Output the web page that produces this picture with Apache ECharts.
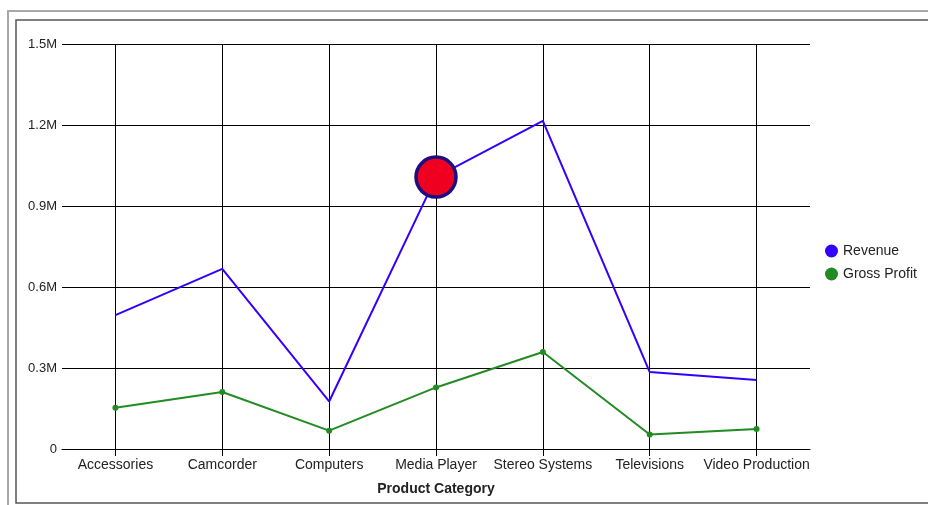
<!DOCTYPE html>
<html>
<head>
<meta charset="utf-8">
<script src="https://cdn.jsdelivr.net/npm/echarts@6/dist/echarts.min.js"></script>
<style>html,body{margin:0;padding:0;background:#fff;}#c{width:928px;height:505px;}</style>
</head>
<body>
<div id="c"></div>
<script>
const categories = ['Accessories', 'Camcorder', 'Computers', 'Media Player', 'Stereo Systems', 'Televisions', 'Video Production'];
const revenue = [496000, 667000, 176000, 1007000, 1215000, 285000, 256000];
const grossProfit = [153000, 211000, 68000, 228000, 359000, 54000, 74000];
const highlightIndex = 3;

const chart = echarts.init(document.getElementById('c'));
const font = 'Liberation Sans, Arial, sans-serif';
const revenueData = revenue.map((v, i) => i === highlightIndex ? {
  value: v, symbol: 'circle', symbolSize: 40,
  itemStyle: { color: '#f00020', borderColor: '#1d0d80', borderWidth: 3.5 }
} : { value: v, symbol: 'none' });

chart.setOption({
  animation: false,
  textStyle: { fontFamily: font },
  graphic: [
    { type: 'rect', shape: { x: 8, y: 11, width: 960, height: 560 }, style: { fill: 'none', stroke: '#a8a8a8', lineWidth: 2 }, silent: true },
    { type: 'rect', shape: { x: 16, y: 20, width: 960, height: 483 }, style: { fill: 'none', stroke: '#555', lineWidth: 1.5 }, silent: true }
  ],
  grid: { left: 62, right: 118, top: 44, bottom: 56, containLabel: false },
  legend: {
    orient: 'vertical', left: 820, top: 239, icon: 'circle', itemWidth: 13, itemHeight: 13, itemGap: 9,
    textStyle: { color: '#222', fontSize: 14, fontFamily: font },
    data: ['Revenue', 'Gross Profit']
  },
  xAxis: {
    type: 'category', data: categories, boundaryGap: true,
    name: 'Product Category', nameLocation: 'middle', nameGap: 33,
    nameTextStyle: { fontWeight: 'bold', fontSize: 14, color: '#222', fontFamily: font },
    axisLine: { show: true, lineStyle: { color: '#000', width: 1 } },
    axisTick: { show: true, alignWithLabel: true, length: 7, lineStyle: { color: '#000' } },
    axisLabel: { color: '#222', fontSize: 14, margin: 9, interval: 0, fontFamily: font },
    splitLine: { show: true, alignWithLabel: true, lineStyle: { color: '#000', width: 1 } }
  },
  yAxis: {
    type: 'value', min: 0, max: 1500000, interval: 300000,
    axisLine: { show: false }, axisTick: { show: false },
    axisLabel: { color: '#222', fontSize: 13, margin: 5, fontFamily: font,
      formatter: v => v === 0 ? '0' : (v / 1e6).toFixed(1) + 'M' },
    splitLine: { show: true, lineStyle: { color: '#000', width: 1 } }
  },
  series: [
    { name: 'Revenue', type: 'line', data: revenueData, symbol: 'none', showSymbol: true,
      lineStyle: { color: '#3300ff', width: 2 }, itemStyle: { color: '#3300ff' }, z: 3 },
    { name: 'Gross Profit', type: 'line', data: grossProfit, symbol: 'circle', symbolSize: 6,
      lineStyle: { color: '#228b22', width: 2 }, itemStyle: { color: '#228b22' }, z: 2 }
  ]
});
</script>
</body>
</html>
